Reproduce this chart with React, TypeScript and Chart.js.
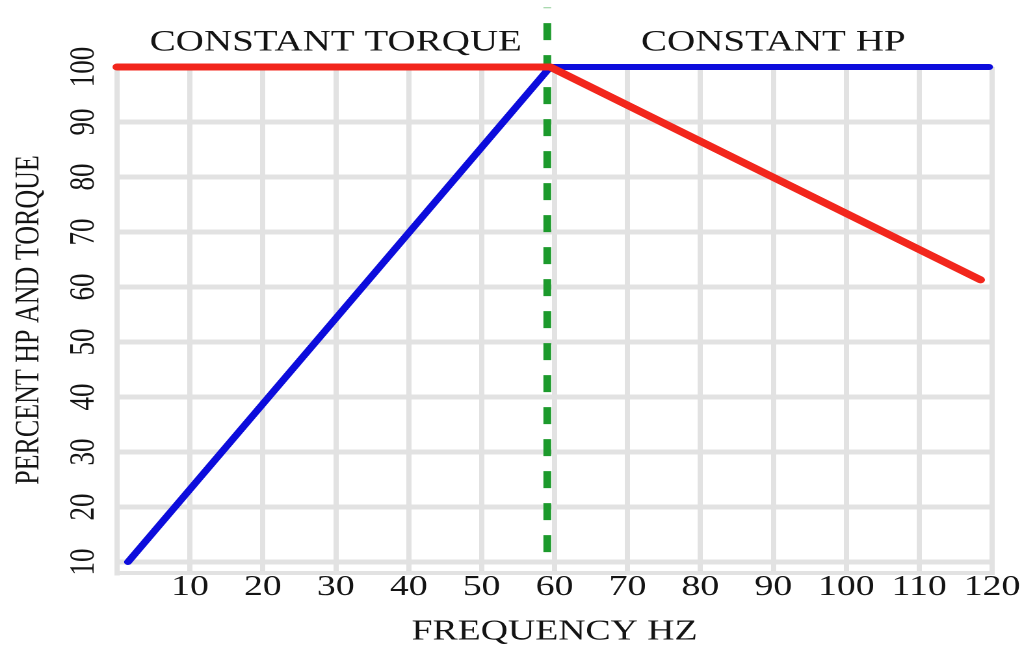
import React, { useEffect, useRef } from "react";
import { Chart, registerables } from "chart.js";

Chart.register(...registerables);

// ---- data ----
const xTickValues = [0, 10, 20, 30, 40, 50, 60, 70, 80, 90, 100, 110, 120];
const yTickValues = [10, 20, 30, 40, 50, 60, 70, 80, 90, 100];

const torqueX = [0, 59.4, 118.4];
const torqueY = [100, 100, 61.3];

const hpX = [1.5, 59.4, 119.6];
const hpY = [10, 100, 100];

const baseSpeedX = [59, 59];
const baseSpeedY = [11.8, 110.8];

const zoneLabels = ["CONSTANT TORQUE", "CONSTANT HP"];
const zoneCentersX = [30, 90];
const zoneLabelY = 104.4;

const xTitle = "FREQUENCY HZ";
const yTitle = "PERCENT HP AND TORQUE";

// ---- layout (internal canvas is drawn narrower, then stretched horizontally) ----
const OUT_W = 1035;
const OUT_H = 648;
const IN_W = 796;
const STRETCH = OUT_W / IN_W;

const FONT = "'Liberation Serif', 'Times New Roman', serif";
const TEXT = "#141414";
const GRID = "#e2e2e2";

const toPts = (xs: number[], ys: number[]) => xs.map((x, i) => ({ x, y: ys[i] }));

const zoneLabelPlugin = {
  id: "zoneLabels",
  afterDraw(chart: any) {
    const { ctx, scales } = chart;
    ctx.save();
    ctx.font = `30px ${FONT}`;
    ctx.fillStyle = TEXT;
    ctx.textAlign = "center";
    ctx.textBaseline = "middle";
    zoneLabels.forEach((t, i) => {
      const x = scales.x.getPixelForValue(zoneCentersX[i]);
      const y = scales.y.getPixelForValue(zoneLabelY);
      ctx.fillText(t, x, y);
    });
    ctx.restore();
  },
};

export default function App() {
  const ref = useRef<HTMLCanvasElement | null>(null);

  useEffect(() => {
    if (!ref.current) return;
    const chart = new Chart(ref.current, {
      type: "line",
      data: {
        datasets: [
          {
            label: "Torque",
            data: toPts(torqueX, torqueY),
            borderColor: "#f2261c",
            borderWidth: 7,
            pointRadius: 0,
            borderCapStyle: "round",
            borderJoinStyle: "round",
            clip: false as any,
            tension: 0,
          },
          {
            label: "HP",
            data: toPts(hpX, hpY),
            borderColor: "#0c0cdc",
            borderWidth: 6,
            pointRadius: 0,
            borderCapStyle: "round",
            borderJoinStyle: "round",
            clip: false as any,
            tension: 0,
          },
          {
            label: "Base speed",
            data: toPts(baseSpeedX, baseSpeedY),
            borderColor: "#1c9a2c",
            borderWidth: 6,
            borderDash: [17, 15],
            pointRadius: 0,
            clip: false as any,
            tension: 0,
          },
        ],
      },
      options: {
        animation: false,
        responsive: true,
        maintainAspectRatio: false,
        devicePixelRatio: 2,
        layout: { padding: { top: 67, right: 33, left: 0, bottom: 0 } },
        plugins: {
          legend: { display: false },
          tooltip: { enabled: false },
        },
        scales: {
          x: {
            type: "linear",
            min: 0,
            max: 120,
            afterBuildTicks: (s: any) => {
              s.ticks = xTickValues.map((v) => ({ value: v }));
            },
            afterFit: (s: any) => {
              s.height = 75;
            },
            grid: { color: GRID, lineWidth: 4, drawTicks: false },
            border: { display: true, color: GRID, width: 4 },
            ticks: {
              autoSkip: false,
              maxRotation: 0,
              minRotation: 0,
              padding: 0,
              color: TEXT,
              font: { family: FONT, size: 29, lineHeight: 1 },
              callback: (v: any) => (v === 0 ? "" : String(v)),
            },
            title: {
              display: true,
              text: xTitle,
              color: TEXT,
              font: { family: FONT, size: 29, lineHeight: 1 },
              padding: { top: 0, bottom: 1.5 },
            },
          },
          y: {
            type: "linear",
            min: 8,
            max: 100,
            afterBuildTicks: (s: any) => {
              s.ticks = yTickValues.map((v) => ({ value: v }));
            },
            afterFit: (s: any) => {
              s.width = 90;
            },
            grid: { color: GRID, lineWidth: 5, drawTicks: false },
            border: { display: true, color: GRID, width: 4 },
            ticks: {
              autoSkip: false,
              minRotation: 90,
              maxRotation: 90,
              crossAlign: "center",
              padding: 5,
              color: TEXT,
              font: { family: FONT, size: 27, lineHeight: 1 },
            },
            title: {
              display: true,
              text: yTitle,
              color: TEXT,
              font: { family: FONT, size: 26, lineHeight: 1.2 },
              padding: { top: 7, bottom: 0 },
            },
          },
        },
      },
      plugins: [zoneLabelPlugin],
    });
    return () => chart.destroy();
  }, []);

  return (
    <div
      style={{
        position: "absolute",
        left: 0,
        top: 0,
        width: OUT_W,
        height: OUT_H,
        overflow: "hidden",
        background: "#ffffff",
      }}
    >
      <div
        style={{
          width: IN_W,
          height: OUT_H,
          transform: `scaleX(${STRETCH})`,
          transformOrigin: "0 0",
        }}
      >
        <canvas ref={ref} />
      </div>
    </div>
  );
}
